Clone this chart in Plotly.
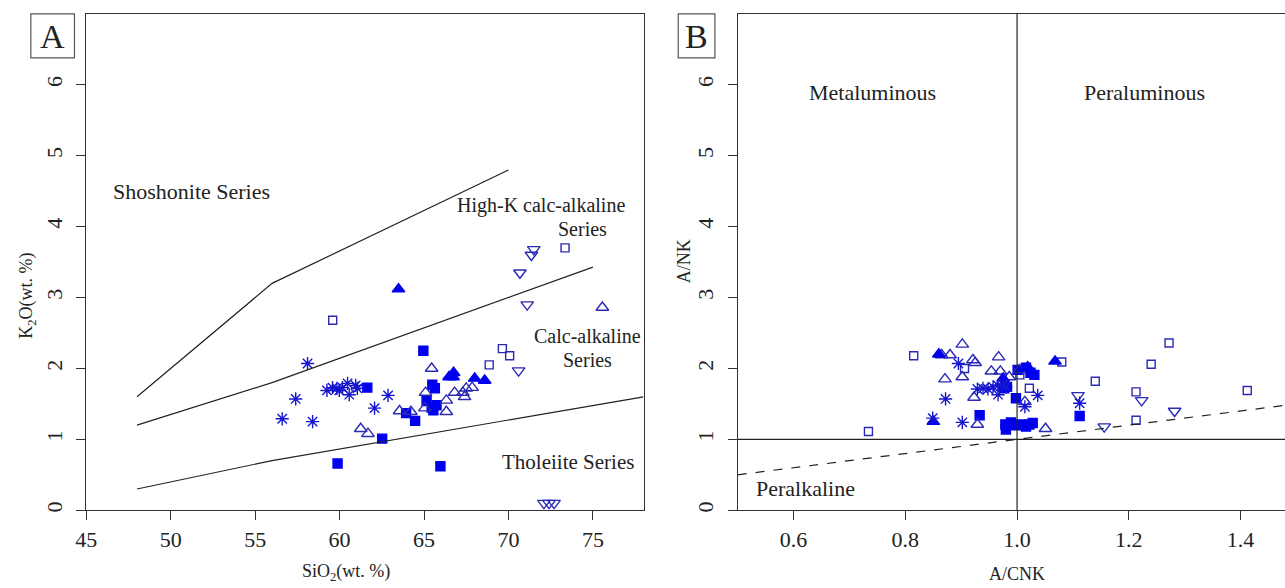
import plotly.graph_objects as go

W, H = 1285, 588

# ---------------- Panel A data (SiO2 vs K2O) ----------------
a_ast_x = [58.1, 57.4, 56.6, 58.4, 59.25, 59.58, 59.84, 59.98, 60.17, 60.47, 60.57, 60.95, 61.05, 62.87, 62.07]
a_ast_y = [2.07, 1.57, 1.29, 1.25, 1.69, 1.73, 1.72, 1.69, 1.73, 1.79, 1.63, 1.76, 1.72, 1.62, 1.44]

a_fsq_x = [61.64, 62.52, 63.94, 64.47, 64.96, 65.49, 65.64, 65.15, 65.45, 65.74, 65.55, 59.88, 65.97]
a_fsq_y = [1.73, 1.01, 1.37, 1.26, 2.25, 1.77, 1.72, 1.54, 1.45, 1.48, 1.41, 0.66, 0.62]

a_otri_x = [61.25, 61.68, 63.55, 64.22, 65.45, 65.09, 65.05, 66.32, 66.32, 66.81, 67.3, 67.5, 67.85, 67.4, 75.56]
a_otri_y = [1.15, 1.08, 1.40, 1.39, 2.00, 1.66, 1.44, 1.39, 1.55, 1.66, 1.66, 1.72, 1.73, 1.60, 2.86]

a_ftri_x = [63.49, 66.48, 66.75, 66.72, 68.0, 68.59]
a_ftri_y = [3.12, 1.88, 1.94, 1.88, 1.86, 1.83]

a_osq_x = [59.59, 68.86, 69.64, 70.07, 73.35]
a_osq_y = [2.68, 2.05, 2.28, 2.18, 3.70]

a_tdn_x = [71.5, 71.36, 70.68, 71.11, 70.6, 72.1, 72.4, 72.7]
a_tdn_y = [3.68, 3.60, 3.35, 2.90, 1.97, 0.10, 0.10, 0.10]

# boundary lines (Peccerillo & Taylor style)
shosh_x = [48, 56, 70]
shosh_y = [1.6, 3.2, 4.8]
highk_x = [48, 56, 75]
highk_y = [1.2, 1.8, 3.43]
thol_x = [48, 56, 78]
thol_y = [0.3, 0.7, 1.6]

# ---------------- Panel B data (A/CNK vs A/NK) ----------------
b_osq_x = [0.734, 0.815, 0.906, 1.005, 1.022, 1.080, 1.140, 1.272, 1.240, 1.213, 1.412, 1.213]
b_osq_y = [1.11, 2.18, 2.00, 1.91, 1.72, 2.09, 1.82, 2.36, 2.06, 1.67, 1.69, 1.27]

b_fsq_x = [0.977, 0.982, 1.001, 1.016, 1.031, 1.024, 0.998, 1.112, 0.933, 0.979, 0.980, 0.989, 0.998, 1.007, 1.016, 1.028, 1.022]
b_fsq_y = [1.72, 1.74, 1.98, 2.01, 1.91, 1.94, 1.58, 1.33, 1.34, 1.21, 1.14, 1.24, 1.20, 1.21, 1.18, 1.23, 1.21]

b_otri_x = [0.865, 0.880, 0.902, 0.921, 0.925, 0.967, 0.871, 0.902, 0.954, 0.970, 0.986, 0.923, 1.004, 1.014, 0.929, 1.051]
b_otri_y = [2.19, 2.19, 2.34, 2.12, 2.08, 2.16, 1.85, 1.88, 1.96, 1.96, 1.88, 1.59, 1.98, 1.53, 1.21, 1.15]

b_ftri_x = [0.860, 0.975, 1.019, 1.068, 0.850]
b_ftri_y = [2.20, 1.86, 2.02, 2.10, 1.25]

b_ast_x = [0.895, 0.929, 0.939, 0.948, 0.957, 0.966, 0.975, 0.980, 0.966, 0.872, 1.014, 1.037, 1.112, 0.849, 0.902]
b_ast_y = [2.07, 1.71, 1.72, 1.71, 1.74, 1.76, 1.79, 1.74, 1.63, 1.57, 1.46, 1.62, 1.51, 1.30, 1.24]

b_tdn_x = [1.109, 1.223, 1.282, 1.156]
b_tdn_y = [1.62, 1.55, 1.40, 1.18]

peralk_x = [0.5, 1.48]
peralk_y = [0.5, 1.48]

y_ticks = [0, 1, 2, 3, 4, 5, 6]
a_x_ticks = [45, 50, 55, 60, 65, 70, 75]
b_x_ticks = [0.6, 0.8, 1.0, 1.2, 1.4]
b_x_ticktext = ["0.6", "0.8", "1.0", "1.2", "1.4"]

FILL = "#0000ee"
OPEN = "#2a2ab4"
AST = "#1515d0"
INK = "#222222"
FONT = "Liberation Serif"

fig = go.Figure()


def px_x(p):
    return p / W


def px_y(p):
    return 1 - p / H


def add_pts(x, y, symbol, axes, size, color, lw=1.4):
    xa, ya = axes
    marker = dict(symbol=symbol, size=size, color=color, line=dict(color=color, width=lw))
    fig.add_trace(go.Scatter(x=x, y=y, mode="markers", marker=marker,
                             xaxis=xa, yaxis=ya, showlegend=False, hoverinfo="skip",
                             cliponaxis=False))


def add_line(x, y, axes, dash="solid"):
    xa, ya = axes
    fig.add_trace(go.Scatter(x=x, y=y, mode="lines", line=dict(color=INK, width=1.2, dash=dash),
                             xaxis=xa, yaxis=ya, showlegend=False, hoverinfo="skip"))


A = ("x", "y")
B = ("x2", "y2")
A_lab = ("x", "y3")   # same scale as A, carries the y tick labels
B_lab = ("x2", "y4")  # same scale as B, carries the y tick labels

add_line(shosh_x, shosh_y, A_lab)
add_line(highk_x, highk_y, A_lab)
add_line(thol_x, thol_y, A_lab)
add_line(peralk_x, peralk_y, B_lab, dash="dash")

for axes, grp in [
    (A, [(a_osq_x, a_osq_y, "square-open", 8, OPEN),
         (a_fsq_x, a_fsq_y, "square", 9, FILL),
         (a_otri_x, a_otri_y, "triangle-up-open", 11, OPEN),
         (a_ftri_x, a_ftri_y, "triangle-up", 11, FILL),
         (a_tdn_x, a_tdn_y, "triangle-down-open", 11, OPEN),
         (a_ast_x, a_ast_y, "asterisk-open", 11, AST)]),
    (B, [(b_osq_x, b_osq_y, "square-open", 8, OPEN),
         (b_fsq_x, b_fsq_y, "square", 9, FILL),
         (b_otri_x, b_otri_y, "triangle-up-open", 11, OPEN),
         (b_ftri_x, b_ftri_y, "triangle-up", 11, FILL),
         (b_tdn_x, b_tdn_y, "triangle-down-open", 11, OPEN),
         (b_ast_x, b_ast_y, "asterisk-open", 11, AST)]),
]:
    for x, y, sym, sz, col in grp:
        add_pts(x, y, sym, axes, sz, col)

tickfont = dict(family=FONT, size=22, color=INK)
axis_common = dict(showgrid=False, zeroline=False, showline=True, linecolor="#333333", linewidth=1.2,
                   ticks="outside", ticklen=9, tickwidth=1.2, tickcolor="#333333",
                   tickfont=tickfont)
# label-only y axes, placed a little left of the tick marks (as in base R graphics)
label_axis = dict(showgrid=False, zeroline=False, showline=False, ticks="", range=[0, 7],
                  tickvals=y_ticks, tickangle=-90, tickfont=tickfont, anchor="free", side="left")

fig.update_layout(
    width=W, height=H, margin=dict(l=0, r=0, t=0, b=0),
    paper_bgcolor="white", plot_bgcolor="white",
    xaxis=dict(domain=[px_x(76), px_x(638)], range=[45, 78], anchor="y", mirror=True,
               tickvals=a_x_ticks, **axis_common),
    yaxis=dict(domain=[px_y(512), px_y(14)], range=[0, 7], anchor="x", mirror=True,
               tickvals=y_ticks, showticklabels=False, **axis_common),
    xaxis2=dict(domain=[px_x(733), 1.0], range=[0.5, 0.5 + 552 / 563.5], anchor="y2", mirror=True,
                tickvals=b_x_ticks, ticktext=b_x_ticktext, **axis_common),
    yaxis2=dict(domain=[px_y(512), px_y(14)], range=[0, 7], anchor="x2",
                tickvals=y_ticks, showticklabels=False, **axis_common),
    yaxis3=dict(overlaying="y", position=px_x(56), **label_axis),
    yaxis4=dict(overlaying="y2", position=px_x(713), **label_axis),
)

# reference lines in B
fig.add_shape(type="line", xref="x2", yref="y2", x0=1.0, x1=1.0, y0=0, y1=7,
              line=dict(color=INK, width=1.2))
fig.add_shape(type="line", xref="x2", yref="y2", x0=0.5, x1=0.5 + 552 / 563.5, y0=1, y1=1,
              line=dict(color=INK, width=1.2))

# panel label boxes
for (x0, x1, label) in [(20, 64, "A"), (673, 710, "B")]:
    fig.add_shape(type="rect", xref="paper", yref="paper",
                  x0=px_x(x0), x1=px_x(x1), y0=px_y(58), y1=px_y(14),
                  line=dict(color="#555555", width=1.2))
    fig.add_annotation(xref="paper", yref="paper", x=px_x((x0 + x1) / 2), y=px_y(37),
                       text=label, showarrow=False, xanchor="center", yanchor="middle",
                       font=dict(family=FONT, size=34, color=INK))


def ann(x, y, text, xref, yref, size=22, xanchor="center", angle=0):
    fig.add_annotation(x=x, y=y, xref=xref, yref=yref, text=text, showarrow=False,
                       xanchor=xanchor, yanchor="middle", textangle=angle,
                       font=dict(family=FONT, size=size, color=INK))


# series labels in A
ann(51.2, 4.49, "Shoshonite Series", "x", "y")
ann(71.95, 4.30, "High-K calc-alkaline", "x", "y", size=20)
ann(74.4, 3.96, "Series", "x", "y", size=20)
ann(74.7, 2.46, "Calc-alkaline", "x", "y", size=20)
ann(74.7, 2.12, "Series", "x", "y", size=20)
ann(73.5, 0.68, "Tholeiite Series", "x", "y", size=21)

# labels in B
ann(0.741, 5.89, "Metaluminous", "x2", "y2")
ann(1.229, 5.89, "Peraluminous", "x2", "y2")
ann(0.622, 0.31, "Peralkaline", "x2", "y2")

# axis titles
ann(px_x(338), px_y(574), "SiO<sub>2</sub>(wt. %)", "paper", "paper", size=18)
ann(px_x(17), px_y(297), "K<sub>2</sub>O(wt. %)", "paper", "paper", size=18, angle=-90)
ann(px_x(1015), px_y(576), "A/CNK", "paper", "paper", size=18)
ann(px_x(679), px_y(262), "A/NK", "paper", "paper", size=18, angle=-90)

fig.write_html("out.html")
